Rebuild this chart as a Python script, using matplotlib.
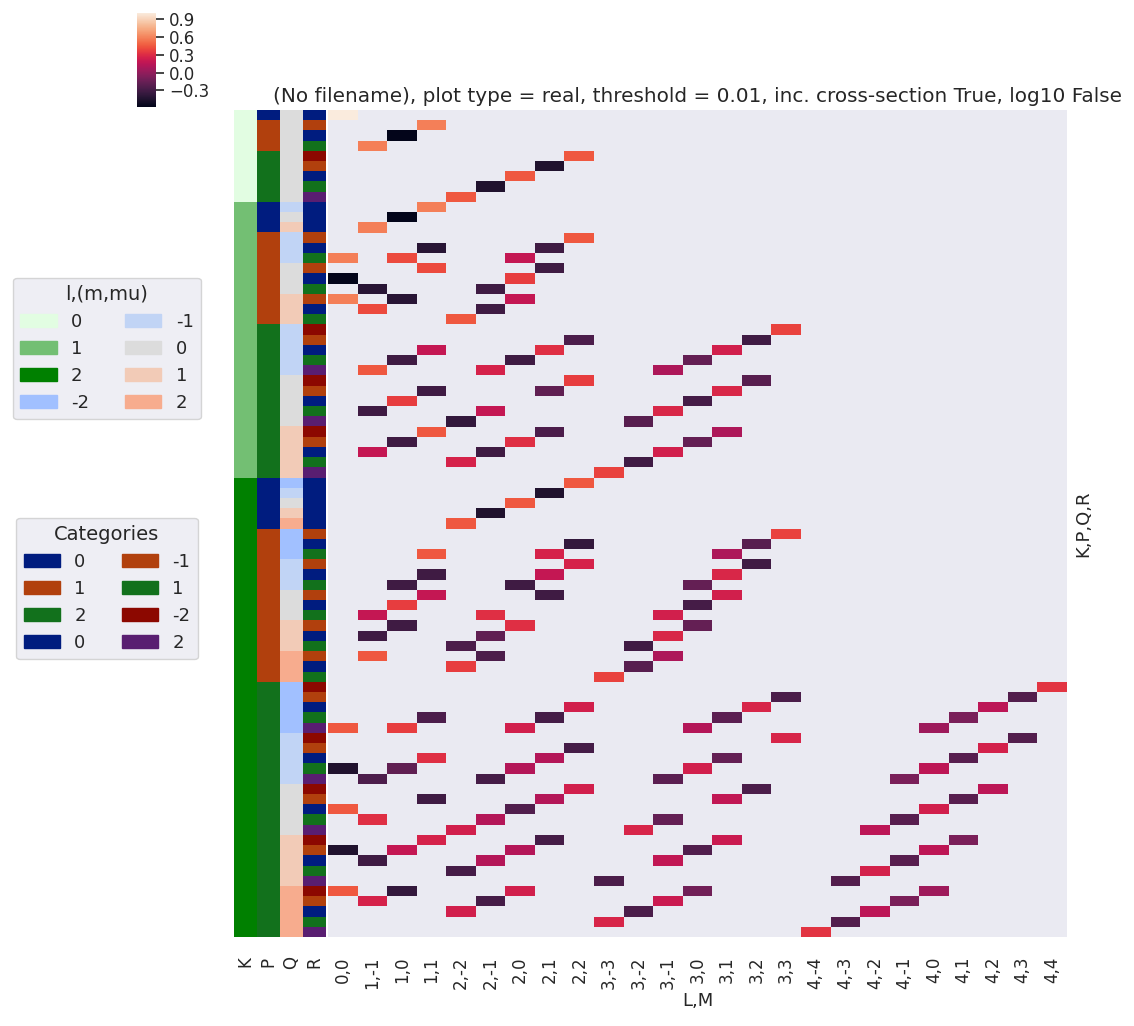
import numpy as np
import pandas as pd
import matplotlib
matplotlib.use("Agg")
import matplotlib.pyplot as plt
from matplotlib.patches import Patch
from matplotlib.colors import to_rgb
import seaborn as sns

# heatmap columns (L,M)
col_labels = ["0,0", "1,-1", "1,0", "1,1", "2,-2", "2,-1", "2,0", "2,1", "2,2",
              "3,-3", "3,-2", "3,-1", "3,0", "3,1", "3,2", "3,3",
              "4,-4", "4,-3", "4,-2", "4,-1", "4,0", "4,1", "4,2", "4,3", "4,4"]

# row categories (K,P,Q,R), top to bottom
K_rows = [0] * 9 + [1] * 27 + [2] * 45
P_rows = ([0] + [1] * 3 + [2] * 5
          + [0] * 3 + [1] * 9 + [2] * 15
          + [0] * 5 + [1] * 15 + [2] * 25)
Q_rows = ([0] * 9
          + [-1, 0, 1]
          + [-1] * 3 + [0] * 3 + [1] * 3
          + [-1] * 5 + [0] * 5 + [1] * 5
          + [-2, -1, 0, 1, 2]
          + [-2] * 3 + [-1] * 3 + [0] * 3 + [1] * 3 + [2] * 3
          + [-2] * 5 + [-1] * 5 + [0] * 5 + [1] * 5 + [2] * 5)
R_rows = ([0, -1, 0, 1, -2, -1, 0, 1, 2]
          + [0, 0, 0]
          + [-1, 0, 1] * 3
          + [-2, -1, 0, 1, 2] * 3
          + [0] * 5
          + [-1, 0, 1] * 5
          + [-2, -1, 0, 1, 2] * 5)

# non-zero cells: (row, "L,M", value)
cells = [
    (0, "0,0", 1.0),
    (1, "1,1", 0.577), (2, "1,0", -0.577), (3, "1,-1", 0.577),
    (4, "2,2", 0.447), (5, "2,1", -0.447), (6, "2,0", 0.447), (7, "2,-1", -0.447), (8, "2,-2", 0.447),
    (9, "1,1", 0.577), (10, "1,0", -0.577), (11, "1,-1", 0.577),
    (12, "2,2", 0.447),
    (13, "1,1", -0.408), (13, "2,1", -0.316),
    (14, "0,0", 0.577), (14, "1,0", 0.408), (14, "2,0", 0.183),
    (15, "1,1", 0.408), (15, "2,1", -0.316),
    (16, "0,0", -0.577), (16, "2,0", 0.365),
    (17, "1,-1", -0.408), (17, "2,-1", -0.316),
    (18, "0,0", 0.577), (18, "1,0", -0.408), (18, "2,0", 0.183),
    (19, "1,-1", 0.408), (19, "2,-1", -0.316),
    (20, "2,-2", 0.447),
    (21, "3,3", 0.378),
    (22, "2,2", -0.258), (22, "3,2", -0.309),
    (23, "1,1", 0.183), (23, "2,1", 0.316), (23, "3,1", 0.239),
    (24, "1,0", -0.316), (24, "2,0", -0.316), (24, "3,0", -0.169),
    (25, "1,-1", 0.447), (25, "2,-1", 0.258), (25, "3,-1", 0.098),
    (26, "2,2", 0.365), (26, "3,2", -0.218),
    (27, "1,1", -0.316), (27, "2,1", -0.183), (27, "3,1", 0.276),
    (28, "1,0", 0.365), (28, "3,0", -0.293),
    (29, "1,-1", -0.316), (29, "2,-1", 0.183), (29, "3,-1", 0.276),
    (30, "2,-2", -0.365), (30, "3,-2", -0.218),
    (31, "1,1", 0.447), (31, "2,1", -0.258), (31, "3,1", 0.098),
    (32, "1,0", -0.316), (32, "2,0", 0.316), (32, "3,0", -0.169),
    (33, "1,-1", 0.183), (33, "2,-1", -0.316), (33, "3,-1", 0.239),
    (34, "2,-2", 0.258), (34, "3,-2", -0.309),
    (35, "3,-3", 0.378),
    (36, "2,2", 0.447), (37, "2,1", -0.447), (38, "2,0", 0.447), (39, "2,-1", -0.447), (40, "2,-2", 0.447),
    (41, "3,3", 0.378),
    (42, "2,2", -0.365), (42, "3,2", -0.218),
    (43, "1,1", 0.447), (43, "2,1", 0.258), (43, "3,1", 0.098),
    (44, "2,2", 0.258), (44, "3,2", -0.309),
    (45, "1,1", -0.316), (45, "2,1", 0.183), (45, "3,1", 0.276),
    (46, "1,0", -0.316), (46, "2,0", -0.316), (46, "3,0", -0.169),
    (47, "1,1", 0.183), (47, "2,1", -0.316), (47, "3,1", 0.239),
    (48, "1,0", 0.365), (48, "3,0", -0.293),
    (49, "1,-1", 0.183), (49, "2,-1", 0.316), (49, "3,-1", 0.239),
    (50, "1,0", -0.316), (50, "2,0", 0.316), (50, "3,0", -0.169),
    (51, "1,-1", -0.316), (51, "2,-1", -0.183), (51, "3,-1", 0.276),
    (52, "2,-2", -0.258), (52, "3,-2", -0.309),
    (53, "1,-1", 0.447), (53, "2,-1", -0.258), (53, "3,-1", 0.098),
    (54, "2,-2", 0.365), (54, "3,-2", -0.218),
    (55, "3,-3", 0.378),
    (56, "4,4", 0.333),
    (57, "3,3", -0.267), (57, "4,3", -0.236),
    (58, "2,2", 0.239), (58, "3,2", 0.267), (58, "4,2", 0.154),
    (59, "1,1", -0.258), (59, "2,1", -0.293), (59, "3,1", -0.207), (59, "4,1", -0.089),
    (60, "0,0", 0.447), (60, "1,0", 0.365), (60, "2,0", 0.239), (60, "3,0", 0.120), (60, "4,0", 0.040),
    (61, "3,3", 0.267), (61, "4,3", -0.236),
    (62, "2,2", -0.293), (62, "4,2", 0.252),
    (63, "1,1", 0.316), (63, "2,1", 0.120), (63, "3,1", -0.169), (63, "4,1", -0.218),
    (64, "0,0", -0.447), (64, "1,0", -0.183), (64, "2,0", 0.120), (64, "3,0", 0.239), (64, "4,0", 0.159),
    (65, "1,-1", -0.258), (65, "2,-1", -0.293), (65, "3,-1", -0.207), (65, "4,-1", -0.089),
    (66, "2,2", 0.239), (66, "3,2", -0.267), (66, "4,2", 0.154),
    (67, "1,1", -0.316), (67, "2,1", 0.120), (67, "3,1", 0.169), (67, "4,1", -0.218),
    (68, "0,0", 0.447), (68, "2,0", -0.239), (68, "4,0", 0.239),
    (69, "1,-1", 0.316), (69, "2,-1", 0.120), (69, "3,-1", -0.169), (69, "4,-1", -0.218),
    (70, "2,-2", 0.239), (70, "3,-2", 0.267), (70, "4,-2", 0.154),
    (71, "1,1", 0.258), (71, "2,1", -0.293), (71, "3,1", 0.207), (71, "4,1", -0.089),
    (72, "0,0", -0.447), (72, "1,0", 0.183), (72, "2,0", 0.120), (72, "3,0", -0.239), (72, "4,0", 0.159),
    (73, "1,-1", -0.316), (73, "2,-1", 0.120), (73, "3,-1", 0.169), (73, "4,-1", -0.218),
    (74, "2,-2", -0.293), (74, "4,-2", 0.252),
    (75, "3,-3", -0.267), (75, "4,-3", -0.236),
    (76, "0,0", 0.447), (76, "1,0", -0.365), (76, "2,0", 0.239), (76, "3,0", -0.120), (76, "4,0", 0.040),
    (77, "1,-1", 0.258), (77, "2,-1", -0.293), (77, "3,-1", 0.207), (77, "4,-1", -0.089),
    (78, "2,-2", 0.239), (78, "3,-2", -0.267), (78, "4,-2", 0.154),
    (79, "3,-3", 0.267), (79, "4,-3", -0.236),
    (80, "4,-4", 0.333),
]

# category colours
K_colors = {0: "#e2fde2", 1: "#73bf73", 2: "#008000"}
Q_colors = {-2: "#a1c0ff", -1: "#c1d4f5", 0: "#dcdcdc", 1: "#f2cbb7", 2: "#f7ac8e"}
P_colors = {0: "#001c7f", 1: "#b1400d", 2: "#12711c"}
R_colors = {0: "#001c7f", -1: "#b1400d", 1: "#12711c", -2: "#8c0800", 2: "#591e71"}

sns.set_theme(style="darkgrid")
plt.rcParams["font.family"] = ["DejaVu Sans"]

n_rows = len(K_rows)
df = pd.DataFrame(np.nan, index=range(n_rows), columns=col_labels)
for r, c, v in cells:
    df.loc[r, c] = v

W, H = 1134, 1026
fig = plt.figure(figsize=(W / 100, H / 100), dpi=100)


def box(x0, y0, x1, y1):
    return [x0 / W, 1 - y1 / H, (x1 - x0) / W, (y1 - y0) / H]


ax = fig.add_axes(box(328, 110, 1067, 937))
ax_rc = fig.add_axes(box(234, 110, 326, 937))
cax = fig.add_axes(box(137, 13, 156, 107))

sns.heatmap(df, ax=ax, cbar_ax=cax, cmap="rocket", xticklabels=True,
            yticklabels=False)
ax.grid(False)
ax.set_xticklabels(col_labels, rotation=90, fontsize=12)
ax.tick_params(axis="x", length=0, pad=14)
ax.set_xlabel("L,M", fontsize=13, labelpad=2)
ax.yaxis.set_label_position("right")
ax.set_ylabel("K,P,Q,R", fontsize=13, labelpad=5)
ax.set_title("(No filename), plot type = real, threshold = 0.01, "
             "inc. cross-section True, log10 False", fontsize=14.4)

cax.set_yticks([-0.3, 0.0, 0.3, 0.6, 0.9])
cax.tick_params(labelsize=12, length=6, width=1.2, right=True)

rgb = np.array([[to_rgb(K_colors[k]), to_rgb(P_colors[p]),
                 to_rgb(Q_colors[q]), to_rgb(R_colors[r])]
                for k, p, q, r in zip(K_rows, P_rows, Q_rows, R_rows)])
ax_rc.imshow(rgb, aspect="auto", interpolation="nearest")
ax_rc.grid(False)
ax_rc.set_xticks(range(4))
ax_rc.set_xticklabels(["K", "P", "Q", "R"], rotation=90, fontsize=12)
ax_rc.tick_params(axis="x", length=0, pad=14)
ax_rc.set_yticks([])
for s in ax_rc.spines.values():
    s.set_visible(False)

h1 = ([Patch(color=K_colors[k], label=str(k)) for k in [0, 1, 2]]
      + [Patch(color=Q_colors[q], label=str(q)) for q in [-2, -1, 0, 1, 2]])
h2 = ([Patch(color=P_colors[p], label=str(p)) for p in [0, 1, 2]]
      + [Patch(color=R_colors[r], label=str(r)) for r in [0, -1, 1, -2, 2]])
fig.legend(handles=h1, ncol=2, title="l,(m,mu)", loc="center",
           bbox_to_anchor=(107 / W, 1 - 348.5 / H), fontsize=13,
           title_fontsize=14, handlelength=2.0)
fig.legend(handles=h2, ncol=2, title="Categories", loc="center",
           bbox_to_anchor=(107 / W, 1 - 588.5 / H), fontsize=13,
           title_fontsize=14, handlelength=2.0)

fig.savefig("out.png", dpi=100)
